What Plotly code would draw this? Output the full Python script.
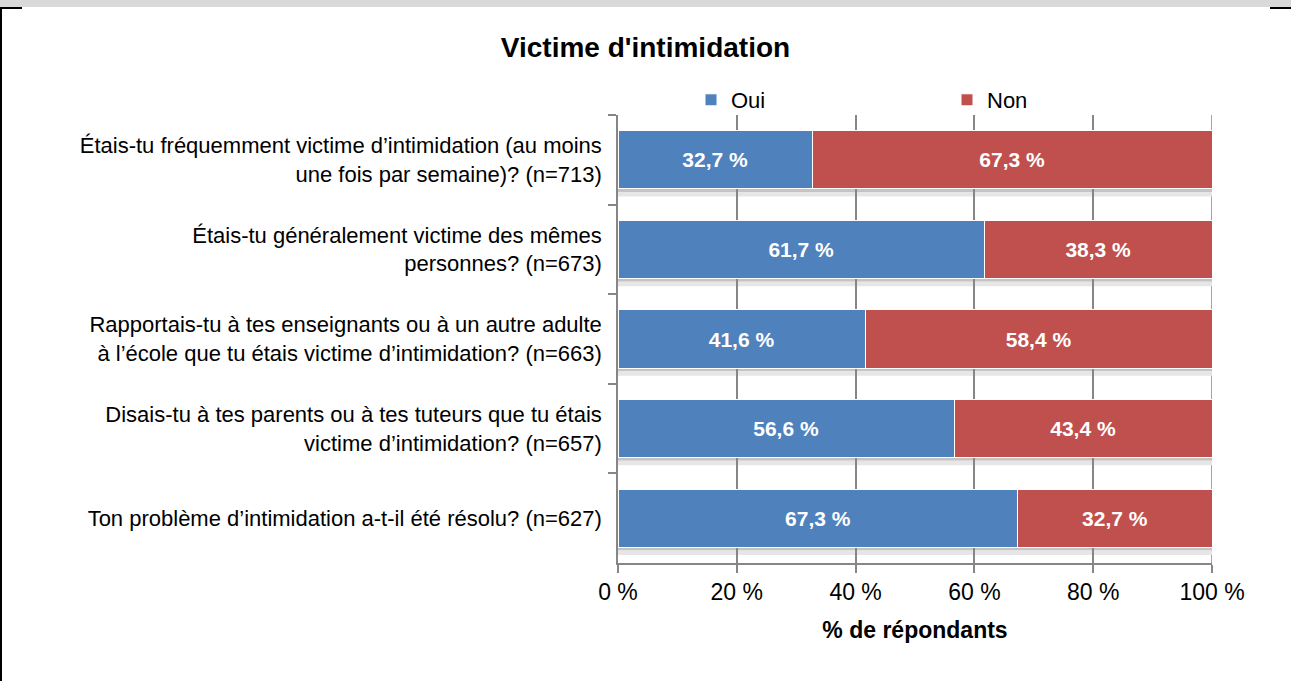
import plotly.graph_objects as go

# data
questions = [
    "Étais-tu fréquemment victime d’intimidation (au moins<br>une fois par semaine)? (n=713)",
    "Étais-tu généralement victime des mêmes<br>personnes? (n=673)",
    "Rapportais-tu à tes enseignants ou à un autre adulte<br>à l’école que tu étais victime d’intimidation? (n=663)",
    "Disais-tu à tes parents ou à tes tuteurs que tu étais<br>victime d’intimidation? (n=657)",
    "Ton problème d’intimidation a-t-il été résolu? (n=627)",
]
oui = [32.7, 61.7, 41.6, 56.6, 67.3]
non = [67.3, 38.3, 58.4, 43.4, 32.7]
x_ticks = [0, 20, 40, 60, 80, 100]
x_tick_labels = ["0 %", "20 %", "40 %", "60 %", "80 %", "100 %"]

W, H = 1291, 681
# plot area in pixels
L, R, T, B = 618, 1212, 115, 563
GAP = 0.35

def px(x):
    return (x - L) / (R - L)

def py(y):
    return (B - y) / (B - T)

FONT = "Liberation Sans, Arial, sans-serif"
GRID = "#868686"

fig = go.Figure()
for name, vals, col in [("Oui", oui, "#4F81BD"), ("Non", non, "#C0504D")]:
    fig.add_trace(go.Bar(
        y=questions, x=vals, name=name, orientation="h",
        marker=dict(color=col, line=dict(color="white", width=1)),
        texttemplate="%{x:.1f} %", textposition="inside", insidetextanchor="middle",
        textangle=0, textfont=dict(color="white", size=21, family=FONT, weight="bold"),
    ))

# page frame of the screenshot
shapes = [
    dict(type="rect", xref="paper", yref="paper", x0=px(0), x1=px(W), y0=py(7), y1=py(0),
         fillcolor="#D9D9D9", line_width=0, layer="above"),
    dict(type="rect", xref="paper", yref="paper", x0=px(0), x1=px(2), y0=py(H), y1=py(7),
         fillcolor="black", line_width=0, layer="above"),
    dict(type="rect", xref="paper", yref="paper", x0=px(0), x1=px(22), y0=py(9), y1=py(7),
         fillcolor="black", line_width=0, layer="above"),
    dict(type="rect", xref="paper", yref="paper", x0=px(1270), x1=px(W), y0=py(9), y1=py(7),
         fillcolor="black", line_width=0, layer="above"),
    # gridline at 100 %
    dict(type="line", xref="x", yref="paper", x0=100, x1=100, y0=0, y1=1,
         line=dict(color=GRID, width=1.5), layer="below"),
]
# soft shadow under each bar
half = (1 - GAP) / 2
for i in range(len(questions)):
    shapes.append(dict(type="rect", xref="x", yref="y", x0=0, x1=100,
                       y0=i + half, y1=i + half + 0.035,
                       fillcolor="#C4C4C4", line_width=0, layer="below"))
    shapes.append(dict(type="rect", xref="x", yref="y", x0=0, x1=100,
                       y0=i + half + 0.035, y1=i + half + 0.085,
                       fillcolor="#E6E6E6", line_width=0, layer="below"))

fig.update_layout(
    width=W, height=H,
    barmode="stack", bargap=GAP,
    separators=", ",
    plot_bgcolor="white", paper_bgcolor="white",
    margin=dict(l=L, r=W - R, t=T, b=H - B, autoexpand=False),
    font=dict(family=FONT, size=22, color="black"),
    title=dict(text="<b>Victime d'intimidation</b>", x=0.5, xref="container",
               y=1 - 47 / H, yanchor="middle", font=dict(size=28)),
    legend=dict(orientation="h", x=px(691), y=py(100), xanchor="left",
                yanchor="middle", entrywidth=211, entrywidthmode="pixels",
                traceorder="normal", font=dict(size=22), bgcolor="rgba(0,0,0,0)",
                borderwidth=0),
    shapes=shapes,
    showlegend=True,
)
fig.update_xaxes(
    range=[0, 100], tickvals=x_ticks, ticktext=x_tick_labels, automargin=False,
    showgrid=True, gridcolor=GRID, gridwidth=1.5, zeroline=False,
    showline=True, linecolor=GRID, linewidth=1.5,
    ticks="outside", ticklen=8, tickcolor=GRID, tickwidth=1.5,
    tickfont=dict(size=23), tickangle=0,
    title=dict(text="<b>% de répondants</b>", font=dict(size=23), standoff=18),
)
fig.update_yaxes(
    autorange="reversed", tickson="boundaries", automargin=False,
    showline=True, linecolor=GRID, linewidth=1.5,
    ticks="outside", ticklen=8, tickcolor=GRID, tickwidth=1.5,
    showgrid=False, tickfont=dict(size=22), ticklabelstandoff=10,
)

fig.write_html("out.html", config={"displayModeBar": False},
               post_script="document.body.style.margin='0';")
